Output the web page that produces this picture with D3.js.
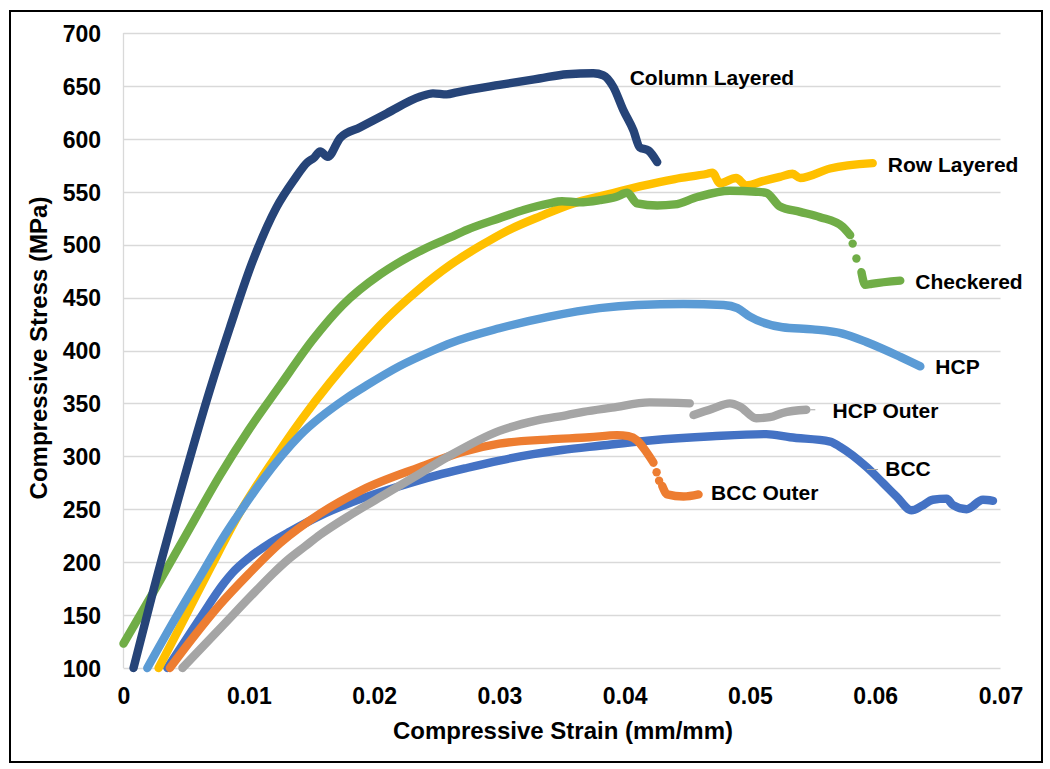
<!DOCTYPE html>
<html>
<head>
<meta charset="utf-8">
<script src="https://cdn.jsdelivr.net/npm/d3@7"></script>
<style>
  html, body { margin: 0; padding: 0; background: #fff; }
  svg text { font-family: "Liberation Sans", Arial, sans-serif; font-weight: bold; fill: #000; }
</style>
</head>
<body>
<svg id="chart" width="1050" height="769"></svg>
<script>
// ---- data (strain mm/mm, stress MPa); null = gap between drawn segments ----
const xTicks = [0, 0.01, 0.02, 0.03, 0.04, 0.05, 0.06, 0.07];
const xTickLabels = ["0", "0.01", "0.02", "0.03", "0.04", "0.05", "0.06", "0.07"];
const yTicks = [100, 150, 200, 250, 300, 350, 400, 450, 500, 550, 600, 650, 700];

const seriesNames = ["BCC", "BCC Outer", "HCP Outer", "Row Layered", "HCP", "Checkered", "Column Layered"];

const bcc = [[0.0035,100],[0.0060,145],[0.0080,180],[0.0087,190],[0.0100,204],[0.0117,218],[0.0133,229],[0.0157,244],[0.0190,260],[0.0221,272],[0.0250,282],[0.0274,289],[0.0300,296],[0.0327,302],[0.0350,306],[0.0380,310],[0.0420,315],[0.0470,319],[0.0513,321],[0.0532,318],[0.0564,314],[0.0572,309],[0.0593,290],[0.0606,275],[0.0617,262],[0.0629,249],[0.0637,253],[0.0646,259],[0.0657,260],[0.0662,254],[0.0673,250],[0.0686,259],[0.0694,258]];

const bccOuter = [[0.0037,100],[0.0055,128],[0.0077,160],[0.0100,189],[0.0125,218],[0.0157,246],[0.0190,268],[0.0237,290],[0.0270,304],[0.0300,312],[0.0340,316],[0.0372,318],[0.0394,320],[0.0403,319],[0.0410,315],[0.0418,303],[0.0423,294],null,[0.04255,285],null,[0.04275,277],null,[0.0430,272],[0.0434,264],[0.0447,262],[0.0459,264]];

const hcpOuter = [[0.0047,100],[0.0080,141],[0.0105,172],[0.0120,190],[0.0131,202],[0.0145,215],[0.0157,226],[0.0183,246],[0.0210,265],[0.0237,284],[0.0261,301],[0.0300,324],[0.0330,334],[0.0354,339],[0.0367,342],[0.0390,346],[0.0420,351],[0.0452,350],null,[0.0455,339],[0.0470,345],[0.0484,350],[0.0492,347],[0.0505,336],[0.0516,337],[0.0526,341],[0.0545,344]];

const rowLayered = [[0.0028,100],[0.0050,150],[0.0070,196],[0.0091,243],[0.0120,297],[0.0141,333],[0.0165,370],[0.0185,398],[0.0210,430],[0.0235,457],[0.0261,481],[0.0285,499],[0.0306,513],[0.0333,527],[0.0359,539],[0.0385,547],[0.0412,555],[0.0440,562],[0.0466,567],[0.0470,568],[0.0476,558],[0.0489,563],[0.0497,556],[0.0510,560],[0.0524,564],[0.0534,567],[0.0540,563],[0.0564,572],[0.0598,577]];

const hcp = [[0.0019,100],[0.0040,144],[0.0064,192],[0.0080,224],[0.0090,242],[0.0110,276],[0.0141,320],[0.0178,355],[0.0194,367],[0.0220,385],[0.0247,400],[0.0261,407],[0.0300,421],[0.0340,432],[0.0380,440],[0.0410,443],[0.0447,444],[0.0479,443],[0.0490,440],[0.0500,432],[0.0526,422],[0.0550,420],[0.0574,416],[0.0593,408],[0.0620,394],[0.0636,385]];

const checkered = [[0.0000,123],[0.0024,172],[0.0050,226],[0.0077,282],[0.0100,325],[0.0125,367],[0.0151,410],[0.0175,443],[0.0205,472],[0.0221,484],[0.0240,496],[0.0261,507],[0.0274,514],[0.0300,525],[0.0320,533],[0.0340,539],[0.0350,541],[0.0364,540],[0.0380,542],[0.0393,545],[0.0402,549],[0.0410,539],[0.0426,537],[0.0440,538],[0.0458,545],[0.0484,551],[0.0505,550],[0.0513,549],[0.0524,536],[0.0540,531],[0.0556,526],[0.0574,517],[0.0580,509],null,[0.0582,501],null,[0.0585,487],null,[0.0589,474],[0.0592,462],[0.0597,463],[0.0620,466]];

const columnLayered = [[0.0008,100],[0.0024,174],[0.0045,265],[0.0069,363],[0.0085,422],[0.0103,484],[0.0122,535],[0.0136,561],[0.0147,578],[0.0152,582],[0.0157,588],[0.0163,583],[0.0173,601],[0.0189,611],[0.0210,624],[0.0237,640],[0.0247,643],[0.0258,642],[0.0266,644],[0.0300,651],[0.0332,657],[0.0354,661],[0.0375,662],[0.0383,660],[0.0391,649],[0.0399,627],[0.0407,608],[0.0412,592],[0.0419,589],[0.0426,578]];

const seriesData = [bcc, bccOuter, hcpOuter, rowLayered, hcp, checkered, columnLayered];
const seriesColors = ["#4472C4", "#ED7D31", "#A5A5A5", "#FFC000", "#5B9BD5", "#70AD47", "#264478"];

// label anchors in data units (strain, stress)
const labelPos = {
  "Column Layered": [0.0404, 658],
  "Row Layered": [0.0610, 576],
  "Checkered": [0.0632, 465],
  "HCP": [0.0648, 385],
  "HCP Outer": [0.0566, 343],
  "BCC": [0.0608, 289],
  "BCC Outer": [0.0469, 266]
};

// ---- drawing ----
const svg = d3.select("#chart");
const x = d3.scaleLinear().domain([0, 0.07]).range([123.5, 1000.5]);
const y = d3.scaleLinear().domain([100, 700]).range([668, 33]);
const FONT = '"Liberation Sans", Arial, sans-serif';

svg.append("rect").attr("x", 10).attr("y", 11).attr("width", 1032).attr("height", 751)
  .attr("fill", "#fff").attr("stroke", "#000").attr("stroke-width", 2);

// gridlines
svg.append("g").selectAll("line").data(yTicks.slice(1)).join("line")
  .attr("x1", x(0)).attr("x2", x(0.07))
  .attr("y1", d => Math.round(y(d)) + 0.5).attr("y2", d => Math.round(y(d)) + 0.5)
  .attr("stroke", "#D9D9D9").attr("stroke-width", 1.3);

// axes lines
svg.append("line").attr("x1", x(0)).attr("x2", x(0.07)).attr("y1", y(100) + 0.5).attr("y2", y(100) + 0.5)
  .attr("stroke", "#D9D9D9").attr("stroke-width", 1.3);
svg.append("line").attr("x1", x(0)).attr("x2", x(0)).attr("y1", y(100)).attr("y2", y(700))
  .attr("stroke", "#D9D9D9").attr("stroke-width", 1.3);

// tick labels via axes
const yAxis = d3.axisLeft(y).tickValues(yTicks).tickSize(0).tickPadding(0).tickFormat(d3.format("d"));
const gy = svg.append("g").attr("transform", `translate(101,0)`).call(yAxis);
gy.select(".domain").remove();
gy.selectAll("text").attr("font-size", 23).attr("dy", "0.36em")
  .style("font-family", FONT).style("font-weight", "bold").attr("fill", "#000");

const xAxis = d3.axisBottom(x).tickValues(xTicks).tickSize(0).tickPadding(0).tickFormat((d, i) => xTickLabels[i]);
const gx = svg.append("g").attr("transform", `translate(0,696)`).call(xAxis);
gx.select(".domain").remove();
gx.selectAll("text").attr("font-size", 23).attr("dy", "0.36em")
  .style("font-family", FONT).style("font-weight", "bold").attr("fill", "#000");

// axis titles
svg.append("text").attr("x", 563).attr("y", 730).attr("text-anchor", "middle").attr("dy", "0.36em")
  .attr("font-size", 24).text("Compressive Strain (mm/mm)");
svg.append("text").attr("transform", "translate(38,348) rotate(-90)").attr("text-anchor", "middle").attr("dy", "0.36em")
  .attr("font-size", 24).text("Compressive Stress (MPa)");

// series
const line = d3.line().x(d => x(d[0])).y(d => y(d[1])).curve(d3.curveMonotoneX);
function segments(arr) {
  const segs = []; let cur = [];
  arr.forEach(p => { if (p === null) { if (cur.length) segs.push(cur); cur = []; } else cur.push(p); });
  if (cur.length) segs.push(cur);
  return segs;
}
seriesData.forEach((data, i) => {
  const g = svg.append("g").attr("class", "series").attr("data-name", seriesNames[i]);
  segments(data).forEach(seg => {
    if (seg.length === 1) {
      g.append("circle").attr("cx", x(seg[0][0])).attr("cy", y(seg[0][1])).attr("r", 4.2)
        .attr("fill", seriesColors[i]);
    } else {
      g.append("path").attr("d", line(seg)).attr("fill", "none").attr("stroke", seriesColors[i])
        .attr("stroke-width", 8.4).attr("stroke-linecap", "round").attr("stroke-linejoin", "round");
    }
  });
});

// leader lines
svg.append("line").attr("x1", x(0.0545) + 4).attr("x2", x(0.0545) + 9).attr("y1", y(344)).attr("y2", y(344))
  .attr("stroke", "#A5A5A5").attr("stroke-width", 1);
svg.append("line").attr("x1", 867).attr("x2", 878).attr("y1", 469.5).attr("y2", 469.5)
  .attr("stroke", "#A5A5A5").attr("stroke-width", 1);

// data labels
seriesNames.forEach(name => {
  const p = labelPos[name];
  svg.append("text").attr("x", x(p[0])).attr("y", y(p[1])).attr("dy", "0.36em")
    .attr("font-size", 21).text(name);
});
</script>
</body>
</html>
